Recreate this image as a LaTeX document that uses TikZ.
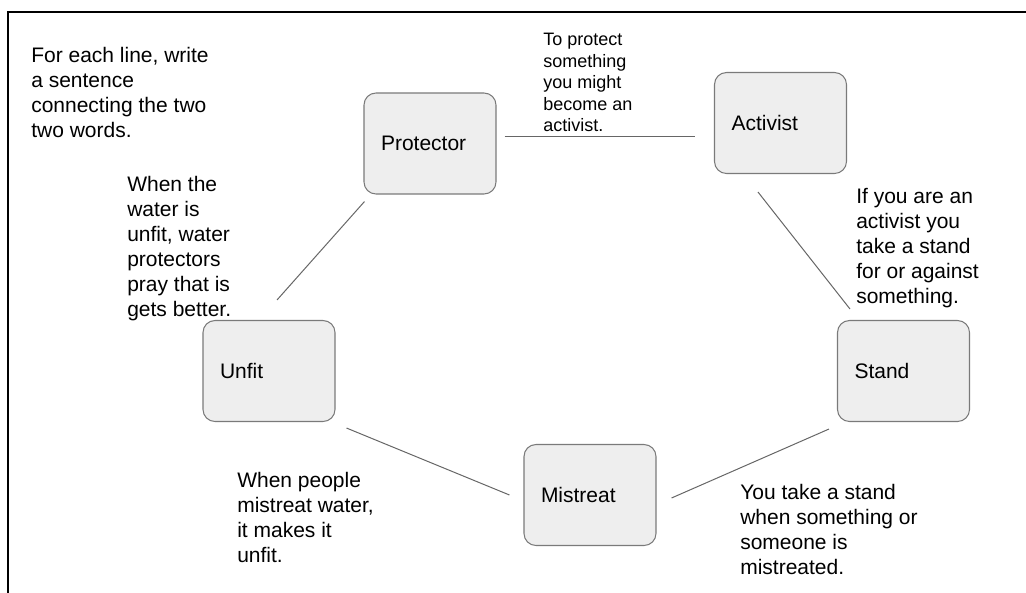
\documentclass[tikz,border=0pt]{standalone}
\usepackage{fontspec}
\setmainfont{Liberation Sans}
\usepackage{xcolor}
\usepackage{tikz}
\usetikzlibrary{positioning}
\definecolor{boxfill}{HTML}{EEEEEE}
\definecolor{boxline}{HTML}{7A7A7A}
\definecolor{linkgray}{HTML}{666666}

\begin{document}
\begin{tikzpicture}[x=0.75pt, y=-0.75pt,
  wordbox/.style={draw=boxline, fill=boxfill, rounded corners=9pt, line width=0.8pt,
                  minimum width=99pt, minimum height=75.75pt, inner xsep=12.75pt,
                  text width=73.5pt, align=left, font=\fontsize{15.75}{18.75}\selectfont},
  note/.style={anchor=north west, inner sep=0pt, align=left,
               font=\fontsize{15.75}{18.75}\selectfont},
  smallnote/.style={note, font=\fontsize{13.5}{16.1}\selectfont},
  link/.style={draw=linkgray, line width=0.75pt},
  frame/.style={line width=1.5pt}
]
\useasboundingbox (0,0) rectangle (1026,593);
\draw[frame] (8,593) -- (8,12) -- (1026,12);
\node[wordbox] (prot) at (430,143.5) {Protector};
\node[wordbox] (act) at (780.5,123) {Activist};
\node[wordbox] (unfit) at (269,371) {Unfit};
\node[wordbox] (stand) at (903.5,371) {Stand};
\node[wordbox] (mist) at (590,495) {Mistreat};
\node[note] (howto) at (31,47) {For each line, write\\a sentence\\connecting the two\\two words.};
\node[smallnote] (protnote) at (543,33) {To protect\\something\\you might\\become an\\activist.};
\node[note] (actnote) at (856,188) {If you are an\\activist you\\take a stand\\for or against\\something.};
\node[note] (unfitnote) at (127,176) {When the\\water is\\unfit, water\\protectors\\pray that is\\gets better.};
\node[note] (mistnote) at (237,472) {When people\\mistreat water,\\it makes it\\unfit.};
\node[note] (standnote) at (740,484) {You take a stand\\when something or\\someone is\\mistreated.};
\draw[link] ([shift={(8,-7.5)}]prot.east) -- ([shift={(-19,13)}]act.west);
\draw[link] ([shift={(-22.5,18)}]act.south) -- ([shift={(13,-11)}]stand.north west);
\draw[link] ([shift={(-8,7)}]stand.south west) -- ([shift={(15,3)}]mist.east);
\draw[link] ([shift={(-14,0)}]mist.west) -- ([shift={(11,6)}]unfit.south east);
\draw[link] ([shift={(8,-20)}]unfit.north) -- ([shift={(1,7)}]prot.south west);
\end{tikzpicture}
\end{document}
